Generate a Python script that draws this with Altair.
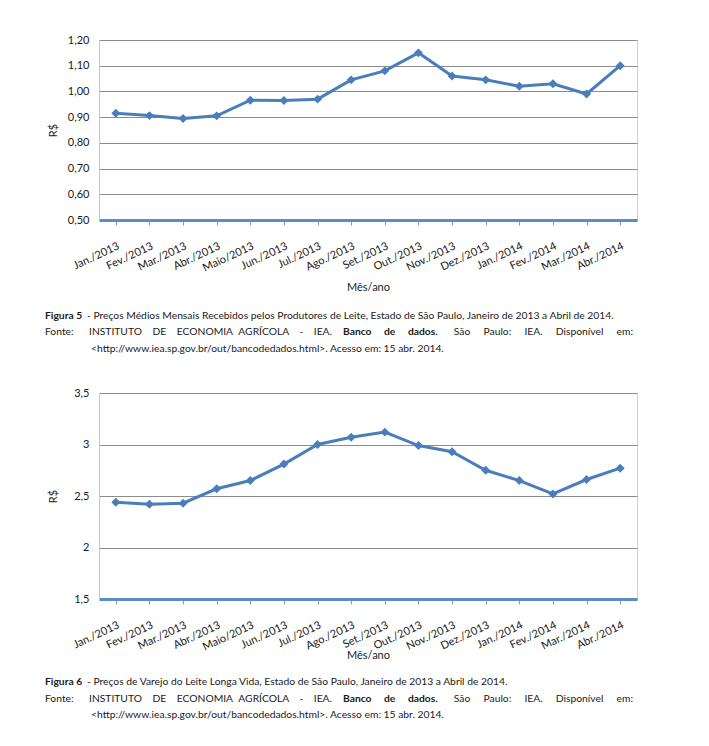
import altair as alt
import pandas as pd

months = ["Jan./2013", "Fev./2013", "Mar./2013", "Abr./2013", "Maio/2013", "Jun./2013",
          "Jul./2013", "Ago./2013", "Set./2013", "Out./2013", "Nov./2013", "Dez./2013",
          "Jan./2014", "Fev./2014", "Mar./2014", "Abr./2014"]
produtor = [0.915, 0.906, 0.895, 0.905, 0.966, 0.965, 0.970, 1.045,
            1.080, 1.150, 1.060, 1.045, 1.020, 1.030, 0.990, 1.100]
varejo = [2.44, 2.42, 2.43, 2.57, 2.65, 2.81, 3.00, 3.07,
          3.12, 2.99, 2.93, 2.75, 2.65, 2.52, 2.66, 2.77]
y1_ticks = [0.5, 0.6, 0.7, 0.8, 0.9, 1.0, 1.1, 1.2]
y2_ticks = [1.5, 2.0, 2.5, 3.0, 3.5]

fig5_bold = "Figura 5"
fig5_rest = "- Preços Médios Mensais Recebidos pelos Produtores de Leite, Estado de São Paulo, Janeiro de 2013 a Abril de 2014."
fig6_bold = "Figura 6"
fig6_rest = "- Preços de Varejo do Leite Longa Vida, Estado de São Paulo, Janeiro de 2013 a Abril de 2014."
fonte_label = "Fonte:"
fonte_a1 = ["INSTITUTO", "DE", "ECONOMIA"]
fonte_a2 = ["AGRÍCOLA", "-", "IEA."]
fonte_b = ["Banco", "de", "dados."]
fonte_c = ["São", "Paulo:", "IEA.", "Disponível", "em:"]
url_line = "<http://www.iea.sp.gov.br/out/bancodedados.html>. Acesso em: 15 abr. 2014."

LINE = "#4A7EBB"
CHART_FONT = "Lato"
CAP_FONT = "Lato"
CAP_SIZE = 10.3
W = 538


def spread(words, n=5):
    return ("\u00a0" * n).join(words)


def cap(text, x, y, bold=False, align="left"):
    return alt.Chart(alt.Data(values=[{}])).mark_text(
        text=text, align=align, baseline="middle", font=CAP_FONT, fontSize=CAP_SIZE,
        fontWeight="bold" if bold else "normal", color="#1a1a1a"
    ).encode(x=alt.value(x), y=alt.value(y))


def panel(values, ticks, h, fmt, title_y, cap_y, bold_txt, rest_txt):
    df = pd.DataFrame({"mes": months, "valor": values})
    base = alt.Chart(df).encode(
        x=alt.X("mes:N", sort=months, scale=alt.Scale(type="point", padding=0.5),
                axis=alt.Axis(title="Mês/ano", labelAngle=-25, labelAlign="right",
                              labelBaseline="top", labelPadding=15, titleY=title_y,
                              tickColor="#9a9a9a", tickSize=5, ticks=True,
                              domainColor="#5B8BC9", domainWidth=3, grid=False)),
        y=alt.Y("valor:Q", scale=alt.Scale(domain=[ticks[0], ticks[-1]], nice=False, zero=False),
                axis=alt.Axis(title="R$", values=ticks, labelExpr=fmt, titleX=-41,
                              grid=True, gridColor="#8c8c8c", gridWidth=1, ticks=False,
                              labelPadding=10, domainColor="#B8CCE4", domainWidth=1)),
    )
    line = base.mark_line(color=LINE, strokeWidth=3)
    pts = base.mark_point(shape="diamond", filled=True, color=LINE, size=80, opacity=1)
    y1, y2, y3 = cap_y
    caps = [
        cap(bold_txt, -54, y1, bold=True),
        cap(rest_txt, -12, y1),
        cap(fonte_label, -54, y2),
        cap(spread(fonte_a1, 4), -10, y2),
        cap(spread(fonte_a2, 4), 233, y2, align="right"),
        cap(spread(fonte_b, 5), 244, y2, bold=True),
        cap(spread(fonte_c, 5), 534, y2, align="right"),
        cap(url_line, -8, y3),
    ]
    return alt.layer(line, pts, *caps).properties(width=W, height=h)


c1 = panel(produtor, y1_ticks, 180,
           "replace(format(datum.value, '.2f'), '.', ',')", 61, (276, 292, 309),
           fig5_bold, fig5_rest)
c2 = panel(varejo, y2_ticks, 206,
           "replace(format(datum.value, '~g'), '.', ',')", 50, (289, 305.5, 322),
           fig6_bold, fig6_rest)

chart = alt.vconcat(c1, c2, spacing=31).properties(
    padding={"left": 36, "top": 25, "right": 5, "bottom": 5},
    background="white",
).configure_view(stroke="#C3D3E8", strokeWidth=1).configure_axis(
    labelFont=CHART_FONT, titleFont=CHART_FONT, labelFontSize=11, titleFontSize=11,
    labelColor="#1a1a1a", titleColor="#1a1a1a", titleFontWeight="normal",
)

chart.save("out.html", embed_options={"renderer": "svg", "actions": False})
